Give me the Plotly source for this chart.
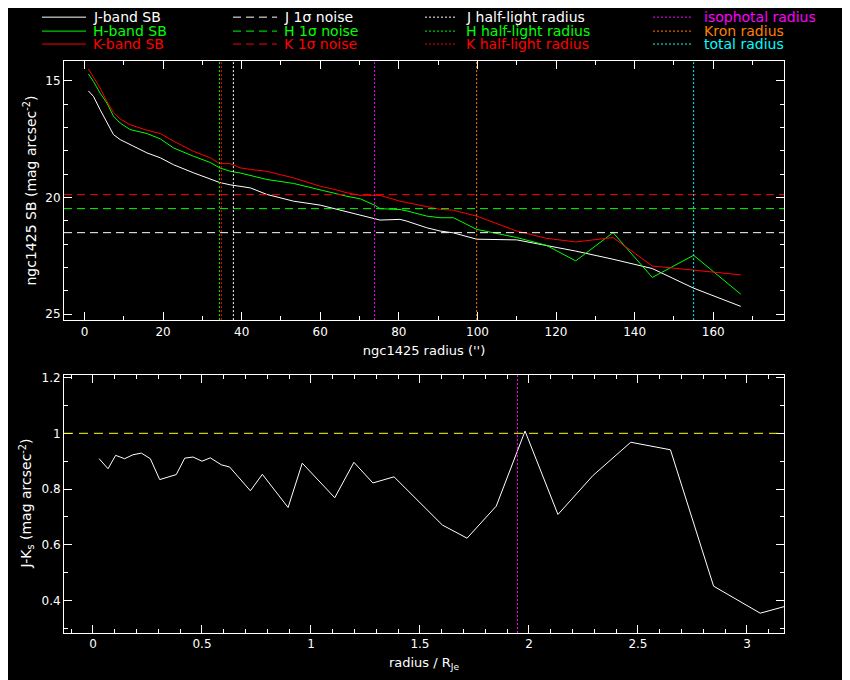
import plotly.graph_objects as go

# ngc1425 surface brightness profiles (mag arcsec^-2)
radius = [1, 2.3, 4, 5.7, 7.4, 9.1, 11.6, 15.9, 19.3, 22.7, 27.7, 32, 34.4, 37.1,
          39.6, 42.2, 46.4, 53.2, 60, 63.4, 66.8, 70.2, 73.8, 75.2, 80.3, 82.1,
          87.1, 90.5, 93.9, 99.8, 110, 117.5, 125, 134.5, 144.5, 155, 167]
j_sb = [15.43, 15.67, 16.24, 16.81, 17.31, 17.52, 17.74, 18.09, 18.30, 18.60, 18.94,
        19.23, 19.36, 19.46, 19.52, 19.59, 19.87, 20.16, 20.33, 20.47, 20.62, 20.78,
        20.90, 20.97, 20.94, 21.02, 21.30, 21.44, 21.52, 21.79, 21.82, 22.05, 22.30,
        22.65, 23.05, 23.89, 24.67]
h_sb = [14.70, 15.03, 15.53, 15.95, 16.52, 16.81, 17.09, 17.26, 17.49, 17.88, 18.23,
        18.50, 18.73, 18.88, 18.95, 19.05, 19.23, 19.40, 19.68, 19.82, 19.95, 20.06,
        20.33, 20.48, 20.52, 20.58, 20.80, 20.87, 20.87, 21.37, 21.72, 22.05, 22.72,
        21.51, 23.43, 22.48, 24.15]
k_sb = [14.49, 14.82, 15.31, 15.88, 16.35, 16.64, 16.88, 17.12, 17.26, 17.59, 18.02,
        18.30, 18.55, 18.55, 18.73, 18.80, 18.88, 19.16, 19.52, 19.65, 19.80, 19.91,
        19.91, 19.91, 20.16, 20.22, 20.37, 20.51, 20.55, 20.80, 21.44, 21.75, 21.91,
        21.72, 22.94, 23.12, 23.32]

bands = ["J", "H", "K"]
band_colors = ["#ffffff", "#00ff00", "#ff0000"]
noise_levels = [21.51, 20.48, 19.88]
half_light = [37.9, 34.35, 34.86]

other_names = ["isophotal radius", "Kron radius", "total radius"]
other_colors = ["#ff00ff", "#ff8000", "#00ffff"]
other_radii = [73.8, 99.8, 155.0]

# J-Ks colour vs radius in units of the J half-light radius
r_norm = [0.028, 0.069, 0.104, 0.145, 0.183, 0.222, 0.263, 0.306, 0.382, 0.421,
          0.459, 0.500, 0.538, 0.589, 0.627, 0.722, 0.777, 0.895, 0.960, 1.109,
          1.197, 1.284, 1.381, 1.603, 1.716, 1.850, 1.982, 2.133, 2.294, 2.467,
          2.649, 2.847, 3.061, 3.27]
j_minus_k = [0.909, 0.873, 0.921, 0.909, 0.923, 0.929, 0.909, 0.834, 0.852, 0.911,
             0.915, 0.900, 0.912, 0.887, 0.879, 0.794, 0.853, 0.734, 0.893, 0.769,
             0.896, 0.822, 0.844, 0.671, 0.624, 0.739, 1.008, 0.709, 0.849, 0.968,
             0.941, 0.452, 0.355, 0.40]
colour_ref = 1.0

FONT = "DejaVu Sans"
DASH = "8px,5px"
DOT = "2px,2px"

fig = go.Figure()

for name, sb, col in zip(bands, [j_sb, h_sb, k_sb], band_colors):
    fig.add_trace(go.Scatter(x=radius, y=sb, mode="lines", line=dict(color=col, width=1),
                             xaxis="x", yaxis="y", showlegend=False))

fig.add_trace(go.Scatter(x=r_norm, y=j_minus_k, mode="lines", line=dict(color="white", width=1),
                         xaxis="x2", yaxis="y2", showlegend=False))

for lvl, col in zip(noise_levels, band_colors):
    fig.add_shape(type="line", xref="x domain", x0=0, x1=1, yref="y", y0=lvl, y1=lvl,
                  line=dict(color=col, width=1, dash=DASH))
for r, col in zip(half_light, band_colors):
    fig.add_shape(type="line", yref="y domain", y0=0, y1=1, xref="x", x0=r, x1=r,
                  line=dict(color=col, width=1, dash=DOT))
for r, col in zip(other_radii, other_colors):
    fig.add_shape(type="line", yref="y domain", y0=0, y1=1, xref="x", x0=r, x1=r,
                  line=dict(color=col, width=1, dash=DOT))

# bottom panel: reference colour and isophotal radius
fig.add_shape(type="line", xref="x2 domain", x0=0, x1=1, yref="y2", y0=colour_ref, y1=colour_ref,
              line=dict(color="#ffff00", width=1, dash="9px,6px"))
iso_norm = other_radii[0] / half_light[0]
fig.add_shape(type="line", yref="y2 domain", y0=0, y1=1, xref="x2", x0=iso_norm, x1=iso_norm,
              line=dict(color="#ff00ff", width=1, dash=DOT))


# legend drawn by hand, pixel positions (reference) converted to paper coords
def px(xp, yp):
    return (xp - 64) / 720, (635 - yp) / 574


rows = [17, 31, 44]
columns = [
    (42, 86, 92, [f"{b}-band SB" for b in bands], band_colors, "solid"),
    (233, 277, 283, [f"{b} 1\u03c3 noise" for b in bands], band_colors, DASH),
    (425, 457, 465, [f"{b} half-light radius" for b in bands], band_colors, DOT),
    (653, 693, 703, other_names, other_colors, DOT),
]
for x0p, x1p, tx, names, cols, dash in columns:
    for yp, name, col in zip(rows, names, cols):
        a0, b0 = px(x0p, yp)
        a1, _ = px(x1p, yp)
        fig.add_shape(type="line", xref="paper", yref="paper", x0=a0, x1=a1, y0=b0, y1=b0,
                      line=dict(color=col, width=1, dash=dash))
        ta, tb = px(tx, yp)
        fig.add_annotation(xref="paper", yref="paper", x=ta, y=tb, text=name, showarrow=False,
                           xanchor="left", yanchor="middle", borderpad=0,
                           font=dict(color=col, size=14, family=FONT))

# y titles placed like the original (the lower one sits over its tick labels)
for text, xp, yp in [("ngc1425 SB (mag arcsec<sup>-2</sup>)", 30, 191),
                     ("J-K<sub>s</sub> (mag arcsec<sup>-2</sup>)", 27, 505)]:
    ta, tb = px(xp, yp)
    fig.add_annotation(xref="paper", yref="paper", x=ta, y=tb, text=text, showarrow=False,
                       textangle=-90, xanchor="center", yanchor="middle",
                       font=dict(color="white", size=14, family=FONT))

axis_style = dict(showline=True, linecolor="white", linewidth=1, mirror="allticks",
                  ticks="inside", ticklen=8, tickcolor="white", showgrid=False, zeroline=False,
                  tickfont=dict(color="white", size=12, family=FONT))
title_font = dict(color="white", size=13, family=FONT)

# page body adds an 8px margin, so the figure is 8px smaller each way
fig.update_layout(
    width=842, height=672,
    paper_bgcolor="black", plot_bgcolor="black",
    margin=dict(l=56, r=66, t=53, b=45),
    font=dict(family=FONT, color="white", size=13),
    xaxis=dict(domain=[0, 1], anchor="y", range=[-5.2, 178], dtick=20,
               minor=dict(ticks="inside", ticklen=4, dtick=10, tickcolor="white"),
               title=dict(text="ngc1425 radius ('')", standoff=8, font=title_font), **axis_style),
    yaxis=dict(domain=[0.547, 1], anchor="x", range=[25.26, 14.15], dtick=5,
               minor=dict(ticks="inside", ticklen=4, dtick=1, tickcolor="white"),
               **axis_style),
    xaxis2=dict(domain=[0, 1], anchor="y2", range=[-0.133, 3.17], dtick=0.5,
                minor=dict(ticks="inside", ticklen=4, dtick=0.1, tickcolor="white"),
                title=dict(text="radius / R<sub>Je</sub>", standoff=7, font=title_font), **axis_style),
    yaxis2=dict(domain=[0, 0.451], anchor="x2", range=[0.284, 1.209], dtick=0.2,
                minor=dict(ticks="inside", ticklen=4, dtick=0.1, tickcolor="white"),
                **axis_style),
)

fig.write_html("out.html")
